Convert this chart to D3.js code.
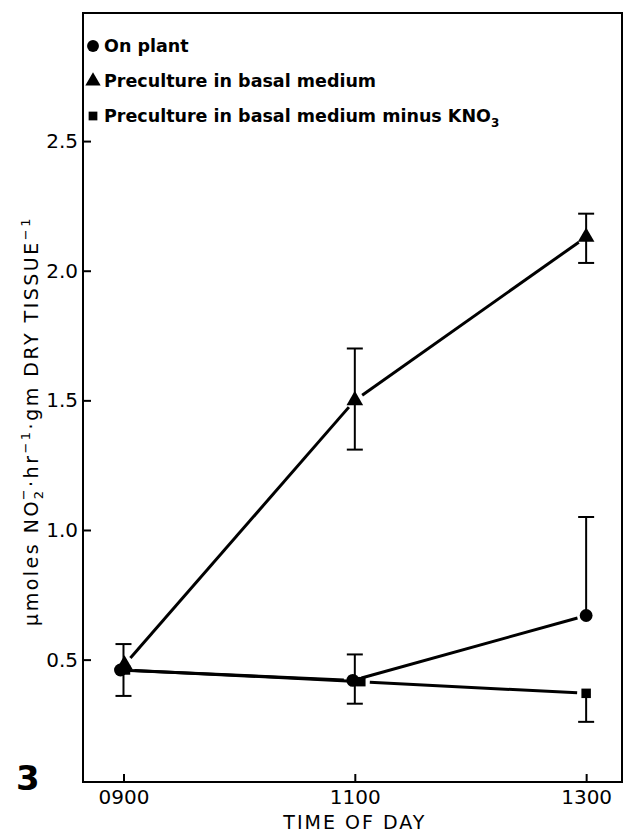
<!DOCTYPE html>
<html>
<head>
<meta charset="utf-8">
<script src="https://cdn.jsdelivr.net/npm/d3@7"></script>
<style>
  body { margin: 0; background: #fff; }
  svg text { font-family: "DejaVu Sans", sans-serif; fill: #000; }
</style>
</head>
<body>
<svg id="chart" width="627" height="833"></svg>
<script>
// time of day (hours) and labels
const hours = [9, 11, 13];
const timeLabels = ["0900", "1100", "1300"];
const yTicks = [0.5, 1.0, 1.5, 2.0, 2.5];

// On plant (circle)
const onPlant = [0.46, 0.42, 0.67];
const onPlantLo = [0.36, 0.33, null];
const onPlantHi = [0.56, 0.52, 1.05];

// Preculture in basal medium (triangle)
const basal = [0.48, 1.50, 2.13];
const basalLo = [null, 1.31, 2.03];
const basalHi = [null, 1.70, 2.22];

// Preculture in basal medium minus KNO3 (square)
const minusKNO3 = [0.46, 0.415, 0.37];
const minusLo = [null, null, 0.26];
const minusHi = [null, null, null];

const seriesNames = ["On plant", "Preculture in basal medium", "Preculture in basal medium minus KNO"];

const svg = d3.select("#chart");
const frame = { left: 83, right: 622, top: 13, bottom: 782 };

const x = d3.scaleLinear().domain([8.65, 13.31]).range([frame.left, frame.right]);
const y = d3.scaleLinear().domain([0.028, 2.994]).range([frame.bottom, frame.top]);

// small horizontal nudges so overlapping markers show as in the figure
const nudge = { circle: [-3, -2, 0], triangle: [1, 0, 0], square: [2, 6, 0] };

const series = [
  { shape: "circle", vals: onPlant, lo: onPlantLo, hi: onPlantHi },
  { shape: "triangle", vals: basal, lo: basalLo, hi: basalHi },
  { shape: "square", vals: minusKNO3, lo: minusLo, hi: minusHi }
];

// frame
svg.append("rect")
  .attr("x", frame.left).attr("y", frame.top)
  .attr("width", frame.right - frame.left).attr("height", frame.bottom - frame.top)
  .attr("fill", "none").attr("stroke", "#000").attr("stroke-width", 2);

// y axis
const yAxis = svg.append("g")
  .attr("transform", `translate(${frame.left},0)`)
  .call(d3.axisLeft(y).tickValues(yTicks).tickFormat(d3.format(".1f"))
    .tickSizeInner(-8).tickSizeOuter(0).tickPadding(5));
yAxis.select(".domain").remove();
yAxis.selectAll("line").attr("stroke-width", 2);
yAxis.selectAll("text").style("font-size", "20px").style("font-family", "DejaVu Sans, sans-serif");

// x axis
const xAxis = svg.append("g")
  .attr("transform", `translate(0,${frame.bottom})`)
  .call(d3.axisBottom(x).tickValues(hours).tickFormat((d, i) => timeLabels[i])
    .tickSizeInner(-8).tickSizeOuter(0).tickPadding(8));
xAxis.select(".domain").remove();
xAxis.selectAll("line").attr("stroke-width", 2);
xAxis.selectAll("text").style("font-size", "20px").style("font-family", "DejaVu Sans, sans-serif");

// x title
svg.append("text")
  .attr("x", x(11)).attr("y", 829)
  .attr("text-anchor", "middle")
  .style("font-size", "19px").style("letter-spacing", "2px")
  .text("TIME OF DAY");

// y title
const yTitle = svg.append("text")
  .attr("transform", "translate(38,421) rotate(-90)")
  .attr("text-anchor", "middle")
  .style("font-size", "19px").style("letter-spacing", "2.5px");
yTitle.append("tspan").text("\u03bcmoles NO");
yTitle.append("tspan").attr("dy", 5).style("font-size", "13px").text("2");
yTitle.append("tspan").attr("dx", -12).attr("dy", -15).style("font-size", "13px").text("\u2212");
yTitle.append("tspan").attr("dy", 10).text("\u00b7hr");
yTitle.append("tspan").attr("dy", -8).style("font-size", "13px").text("\u22121");
yTitle.append("tspan").attr("dy", 8).text("\u00b7gm DRY TISSUE");
yTitle.append("tspan").attr("dy", -8).style("font-size", "13px").text("\u22121");

// figure number
svg.append("text")
  .attr("x", 16).attr("y", 790)
  .style("font-size", "34px").style("font-weight", "bold")
  .text("3");

const px = (s, i) => x(hours[i]) + nudge[s.shape][i];

// connecting lines with small gaps at the markers
const gap = 9;
series.forEach(s => {
  for (let i = 0; i < hours.length - 1; i++) {
    const x1 = px(s, i), y1 = y(s.vals[i]);
    const x2 = px(s, i + 1), y2 = y(s.vals[i + 1]);
    const len = Math.hypot(x2 - x1, y2 - y1);
    const ux = (x2 - x1) / len, uy = (y2 - y1) / len;
    svg.append("line")
      .attr("x1", x1 + ux * gap).attr("y1", y1 + uy * gap)
      .attr("x2", x2 - ux * gap).attr("y2", y2 - uy * gap)
      .attr("stroke", "#000").attr("stroke-width", 3);
  }
});

// error bars
series.forEach(s => {
  hours.forEach((h, i) => {
    const cx = x(h) + (s.shape === "square" && i === 1 ? 6 : 0);
    const cy = y(s.vals[i]);
    [s.lo[i], s.hi[i]].forEach(v => {
      if (v == null) return;
      svg.append("line")
        .attr("x1", cx).attr("x2", cx)
        .attr("y1", cy).attr("y2", y(v))
        .attr("stroke", "#000").attr("stroke-width", 2);
      svg.append("line")
        .attr("x1", cx - 8).attr("x2", cx + 8)
        .attr("y1", y(v)).attr("y2", y(v))
        .attr("stroke", "#000").attr("stroke-width", 2);
    });
  });
});

// markers
const symbolType = { circle: d3.symbolCircle, triangle: d3.symbolTriangle, square: d3.symbolSquare };
const symbolSize = { circle: 130, triangle: 120, square: 90 };
series.forEach(s => {
  svg.append("g").selectAll("path")
    .data(s.vals)
    .join("path")
    .attr("transform", (d, i) => `translate(${px(s, i)},${y(d)})`)
    .attr("d", d3.symbol().type(symbolType[s.shape]).size(symbolSize[s.shape]))
    .attr("fill", "#000");
});

// legend
const legendY = [46, 81, 116];
series.forEach((s, i) => {
  svg.append("path")
    .attr("transform", `translate(93,${legendY[i]})`)
    .attr("d", d3.symbol().type(symbolType[s.shape]).size(symbolSize[s.shape] * 0.85))
    .attr("fill", "#000");
  const t = svg.append("text")
    .attr("x", 104).attr("y", legendY[i] + 6)
    .style("font-size", "17.5px").style("font-weight", "bold")
    .text(seriesNames[i]);
  if (i === 2) {
    t.append("tspan").attr("dy", 5).style("font-size", "12px").text("3");
  }
});
</script>
</body>
</html>
